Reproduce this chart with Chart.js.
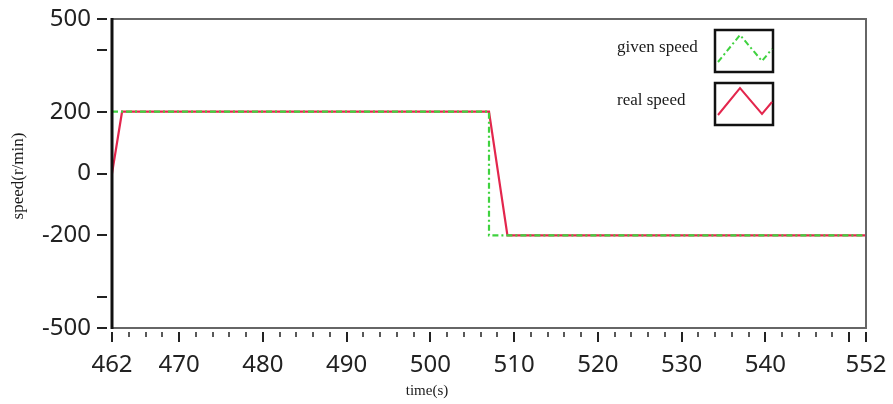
<!DOCTYPE html>
<html>
<head>
<meta charset="utf-8">
<script src="https://cdn.jsdelivr.net/npm/chart.js@4"></script>
<style>
  body { margin: 0; background: #fff; }
  #wrap { width: 893px; height: 404px; }
</style>
</head>
<body>
<div id="wrap"><canvas id="myChart" width="893" height="404"></canvas></div>
<script>
// given speed (set point) and real speed, time in s
const givenTime = [462, 507, 507, 552];
const givenSpeed = [200, 200, -200, -200];
const realTime = [462, 463.2, 507, 509.2, 552];
const realSpeed = [0, 200, 200, -200, -200];

// axis ticks
const xLabels = [462, 470, 480, 490, 500, 510, 520, 530, 540, 552];
const yTicks = [500, 400, 200, 0, -200, -400, -500];
const yLabels = [500, 200, 0, -200, -500];

const seriesNames = ['given speed', 'real speed'];

const GREEN = '#3fd23f';
const RED = '#e3264d';
const TICK_FONT = { family: 'Noto Sans', size: 24 };

const toPts = (xs, ys) => xs.map((x, i) => ({ x: x, y: ys[i] }));

// frame, tick marks, axis titles and the boxed legend
const decorPlugin = {
  id: 'decor',
  afterDatasetsDraw(chart) {
    const ctx = chart.ctx;
    const a = chart.chartArea;
    const xs = chart.scales.x;
    const ys = chart.scales.y;
    ctx.save();

    // frame
    ctx.strokeStyle = '#666';
    ctx.lineWidth = 2;
    ctx.beginPath();
    ctx.moveTo(a.left, a.top);
    ctx.lineTo(a.right, a.top);
    ctx.lineTo(a.right, a.bottom);
    ctx.lineTo(a.left, a.bottom);
    ctx.stroke();
    ctx.strokeStyle = '#111';
    ctx.lineWidth = 3;
    ctx.beginPath();
    ctx.moveTo(a.left, a.top - 1);
    ctx.lineTo(a.left, a.bottom + 1);
    ctx.stroke();

    // y tick marks
    ctx.strokeStyle = '#222';
    ctx.lineWidth = 2;
    yTicks.forEach(v => {
      const y = Math.round(ys.getPixelForValue(v));
      ctx.beginPath();
      ctx.moveTo(a.left - 15, y);
      ctx.lineTo(a.left - 5, y);
      ctx.stroke();
    });

    // x tick marks, minor every 2 s
    for (let v = xs.min; v <= xs.max; v += 2) {
      const major = xLabels.includes(v) || v % 10 === 0;
      const x = Math.round(xs.getPixelForValue(v));
      ctx.lineWidth = major ? 2 : 1.5;
      ctx.beginPath();
      ctx.moveTo(x, a.bottom + 4);
      ctx.lineTo(x, a.bottom + (major ? 14 : 9));
      ctx.stroke();
    }

    // axis titles
    ctx.fillStyle = '#1a1a1a';
    ctx.font = '15px "Liberation Serif"';
    ctx.textAlign = 'center';
    ctx.textBaseline = 'middle';
    ctx.fillText('time(s)', 427, 391);
    ctx.save();
    ctx.translate(19, 176);
    ctx.rotate(-Math.PI / 2);
    ctx.font = '17px "Liberation Serif"';
    ctx.fillText('speed(r/min)', 0, 0);
    ctx.restore();

    // legend
    const boxes = [
      { top: 30, color: GREEN, dash: [6, 3, 2, 3] },
      { top: 83, color: RED, dash: [] }
    ];
    ctx.font = '17px "Liberation Serif"';
    ctx.textAlign = 'left';
    boxes.forEach((b, i) => {
      ctx.fillStyle = '#1a1a1a';
      ctx.fillText(seriesNames[i], 617, b.top + 18);
      ctx.strokeStyle = '#111';
      ctx.lineWidth = 2.5;
      ctx.setLineDash([]);
      ctx.strokeRect(715, b.top, 58, 42);
      ctx.strokeStyle = b.color;
      ctx.lineWidth = 2;
      ctx.setLineDash(b.dash);
      ctx.beginPath();
      ctx.moveTo(718, b.top + 32);
      ctx.lineTo(740, b.top + 5);
      ctx.lineTo(762, b.top + 31);
      ctx.lineTo(772, b.top + 19);
      ctx.stroke();
    });
    ctx.restore();
  }
};

new Chart(document.getElementById('myChart').getContext('2d'), {
  type: 'line',
  data: {
    datasets: [{
      label: seriesNames[1],
      data: toPts(realTime, realSpeed),
      borderColor: RED,
      borderWidth: 2.2,
      pointRadius: 0,
      tension: 0,
      order: 2
    }, {
      label: seriesNames[0],
      data: toPts(givenTime, givenSpeed),
      borderColor: GREEN,
      borderWidth: 2.2,
      borderDash: [6, 3, 2, 3],
      pointRadius: 0,
      tension: 0,
      order: 1
    }]
  },
  options: {
    responsive: false,
    animation: false,
    layout: { padding: { top: 19, right: 27, left: 0, bottom: 0 } },
    plugins: { legend: { display: false }, tooltip: { enabled: false } },
    scales: {
      x: {
        type: 'linear',
        min: 462,
        max: 552,
        afterBuildTicks: s => { s.ticks = xLabels.map(v => ({ value: v })); },
        afterFit: s => { s.height = 76; s.paddingLeft = 0; s.paddingRight = 0; },
        grid: { display: false, drawTicks: false },
        border: { display: false },
        ticks: { font: TICK_FONT, color: '#222', padding: 23, maxRotation: 0, autoSkip: false }
      },
      y: {
        min: -500,
        max: 500,
        afterBuildTicks: s => { s.ticks = yTicks.map(v => ({ value: v })); },
        afterFit: s => { s.width = 112; s.paddingTop = 0; s.paddingBottom = 0; },
        grid: { display: false, drawTicks: false },
        border: { display: false },
        ticks: {
          font: TICK_FONT,
          color: '#222',
          padding: 21,
          autoSkip: false,
          callback: v => yLabels.includes(v) ? String(v) : ''
        }
      }
    }
  },
  plugins: [decorPlugin]
});
</script>
</body>
</html>
